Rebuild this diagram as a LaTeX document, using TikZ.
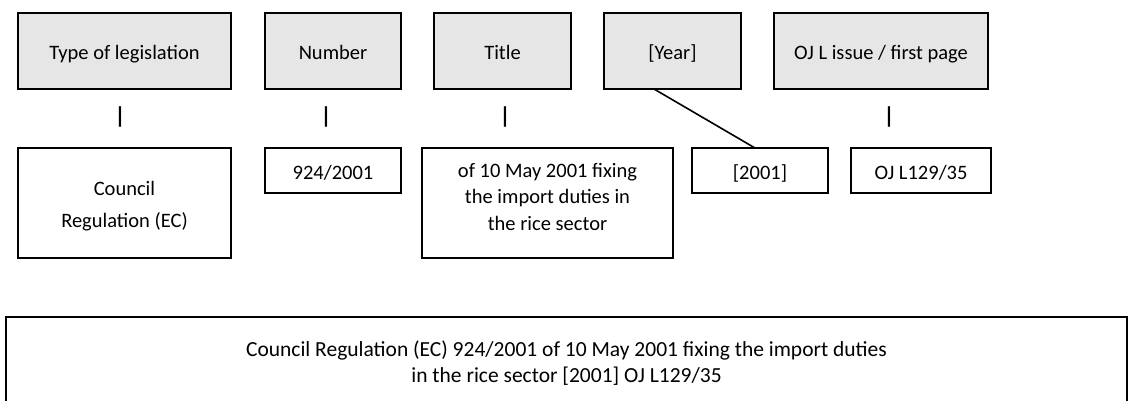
\documentclass[tikz,border=0pt]{standalone}
\usepackage{fontspec}
\setmainfont{Carlito}
\definecolor{boxgray}{RGB}{231,230,230}
\begin{document}
\begin{tikzpicture}[x=1pt,y=-1pt,
  every node/.style={font=\fontsize{20.5}{26.5}\selectfont, inner sep=0pt, outer sep=0pt},
  oneline/.style={text height=17.5pt, text depth=0pt},
  topbox/.style={draw=black, line width=2.6pt, fill=boxgray, minimum height=76pt, oneline},
  lowbox/.style={draw=black, line width=2.6pt, fill=white},
  bar/.style={font=\fontsize{23}{26}\selectfont\bfseries},
  link/.style={draw=black, line width=1.6pt}]
\clip (0,0) rectangle (1129,400);
% top row
\node[topbox, minimum width=213pt] (type) at (124.5,51) {Type of legislation};
\node[topbox, minimum width=136pt] (number) at (333,51) {Number};
\node[topbox, minimum width=137pt] (title) at (502.5,51) {Title};
\node[topbox, minimum width=137pt] (year) at (672.5,51) {[Year]};
\node[topbox, minimum width=214pt] (oj) at (881,51) {OJ L issue / first page};
% bars
\node[bar] (bar1) at (120,117) {|};
\node[bar] (bar2) at (326,117) {|};
\node[bar] (bar3) at (505,117) {|};
\node[bar] (bar4) at (889,117) {|};
% lower row
\node[lowbox, minimum width=213pt, minimum height=110pt] (council) at (124.5,203) {};
\node[align=center] (counciltxt) at (124.5,206) {Council\\[6pt]Regulation (EC)};
\node[lowbox, oneline, minimum width=136pt, minimum height=45pt] (num) at (333,170.5) {924/2001};
\node[lowbox, minimum width=251pt, minimum height=110pt] (ttl) at (547.5,203) {};
\node[align=center] (ttltxt) at (547.5,196.5) {of 10 May 2001 fixing\\the import duties in\\the rice sector};
\node[lowbox, oneline, minimum width=136pt, minimum height=45pt] (yr) at (760,170.5) {[2001]};
\node[lowbox, oneline, minimum width=140pt, minimum height=45pt] (ojl) at (921,170.5) {OJ L129/35};
% connector
\draw[link] ([xshift=-18.5pt]year.south) -- ([xshift=-5pt]yr.north);
% bottom box
\node[lowbox, align=center, minimum width=1121pt, minimum height=92pt, font=\fontsize{21.5}{26}\selectfont] (full) at (566.5,363) {Council Regulation (EC) 924/2001 of 10 May 2001 fixing the import duties\\in the rice sector [2001] OJ L129/35};
\end{tikzpicture}
\end{document}
